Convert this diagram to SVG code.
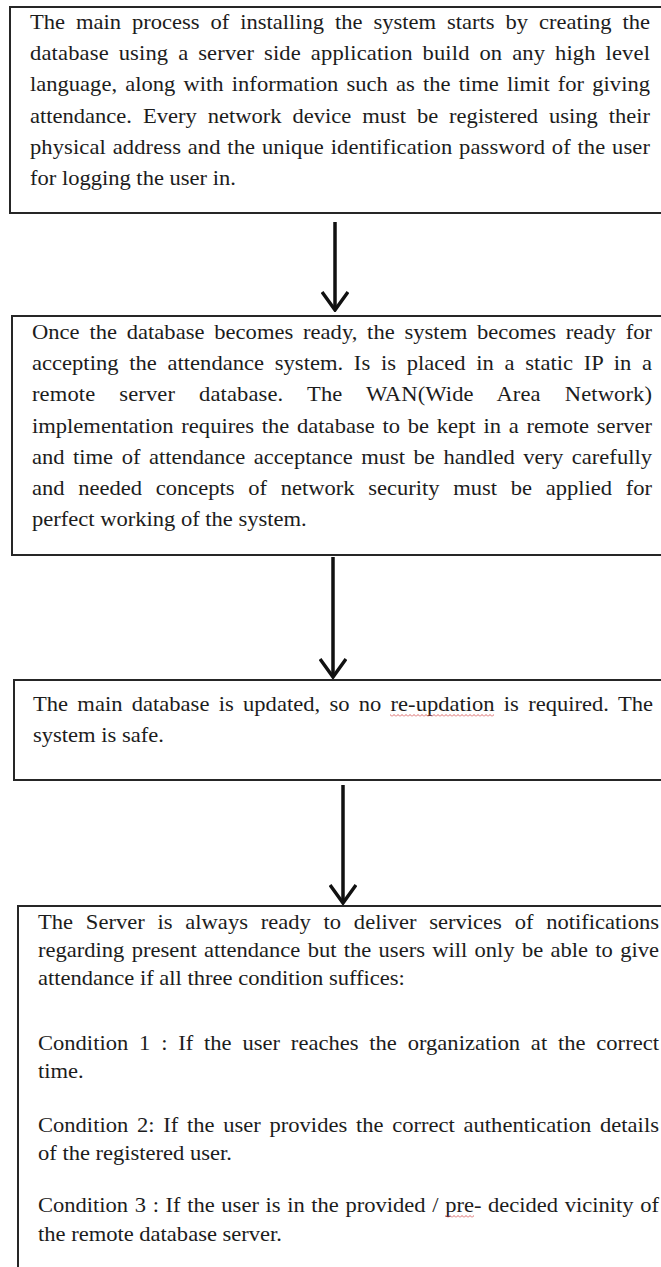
<svg xmlns="http://www.w3.org/2000/svg" width="661" height="1267" viewBox="0 0 661 1267">
<style>
.box{fill:none;stroke:#262626;stroke-width:2}
.t{font-family:"Liberation Serif","Times New Roman",serif;font-size:20.5px;fill:#1c1c1c}
.conn{stroke:#111;stroke-width:3.5;fill:none}
</style>
<defs>
<marker id="head" viewBox="0 0 22 28" refX="20" refY="14" markerWidth="22" markerHeight="28" orient="auto" markerUnits="userSpaceOnUse">
<path d="M2,1 L20,14 L2,27" fill="none" stroke="#111" stroke-width="3.5"/>
</marker>
<pattern id="sq" x="0" y="0" width="4" height="3" patternUnits="userSpaceOnUse">
<path d="M0,2.5 L2,0.5 L4,2.5" fill="none" stroke="#d04040" stroke-width="0.8"/>
</pattern>
</defs>
<rect width="661" height="1267" fill="#ffffff"/>
<g id="connectors">
<line class="conn" x1="335" y1="222" x2="335" y2="310" marker-end="url(#head)"/>
<line class="conn" x1="333" y1="557" x2="333" y2="677" marker-end="url(#head)"/>
<line class="conn" x1="343" y1="785" x2="343" y2="903" marker-end="url(#head)"/>
</g>
<g id="node1">
<rect class="box" x="10" y="7" width="680" height="206"/>
<g transform="scale(1.1 1)">
<text class="t" x="27.27" y="29" word-spacing="4.8" textLength="563.6" lengthAdjust="spacing">The main process of installing the system starts by creating the</text>
<text class="t" x="27.27" y="60" word-spacing="3.7" textLength="563.6" lengthAdjust="spacing">database using a server side application build on any high level</text>
<text class="t" x="27.27" y="91" word-spacing="2.3" textLength="563.6" lengthAdjust="spacing">language, along with information such as the time limit for giving</text>
<text class="t" x="27.27" y="123" word-spacing="4.8" textLength="563.6" lengthAdjust="spacing">attendance. Every network device must be registered using their</text>
<text class="t" x="27.27" y="154" word-spacing="0.9" textLength="563.6" lengthAdjust="spacing">physical address and the unique identification password of the user</text>
<text class="t" x="27.27" y="185">for logging the user in.</text>
</g>
</g>
<g id="node2">
<rect class="box" x="12" y="316" width="680" height="239"/>
<g transform="scale(1.1 1)">
<text class="t" x="29.09" y="339" word-spacing="3.7" textLength="563.6" lengthAdjust="spacing">Once the database becomes ready, the system becomes ready for</text>
<text class="t" x="29.09" y="370" word-spacing="4.6" textLength="563.6" lengthAdjust="spacing">accepting the attendance system. Is is placed in a static IP in a</text>
<text class="t" x="29.09" y="401" word-spacing="16.6" textLength="563.6" lengthAdjust="spacing">remote server database. The WAN(Wide Area Network)</text>
<text class="t" x="29.09" y="433" word-spacing="1.9" textLength="563.6" lengthAdjust="spacing">implementation requires the database to be kept in a remote server</text>
<text class="t" x="29.09" y="464" word-spacing="2.6" textLength="563.6" lengthAdjust="spacing">and time of attendance acceptance must be handled very carefully</text>
<text class="t" x="29.09" y="495" word-spacing="7.3" textLength="563.6" lengthAdjust="spacing">and needed concepts of network security must be applied for</text>
<text class="t" x="29.09" y="526">perfect working of the system.</text>
</g>
</g>
<g id="node3">
<rect class="box" x="14" y="680" width="680" height="100"/>
<g transform="scale(1.1 1)">
<text class="t" x="30" y="711" word-spacing="3.3" textLength="563.6" lengthAdjust="spacing">The main database is updated, so no re-updation is required. The</text>
<text class="t" x="30" y="742">system is safe.</text>
</g>
<rect x="390" y="714" width="104" height="3" fill="url(#sq)"/>
</g>
<g id="node4">
<rect class="box" x="18" y="906" width="680" height="400"/>
<g transform="scale(1.1 1)">
<text class="t" x="34.55" y="929" word-spacing="6.5" textLength="564.5" lengthAdjust="spacing">The Server is always ready to deliver services of notifications</text>
<text class="t" x="34.55" y="957" word-spacing="1.5" textLength="564.5" lengthAdjust="spacing">regarding present attendance but the users will only be able to give</text>
<text class="t" x="34.55" y="985">attendance if all three condition suffices:</text>
<text class="t" x="34.55" y="1050" word-spacing="4.7" textLength="564.5" lengthAdjust="spacing">Condition 1 : If the user reaches the organization at the correct</text>
<text class="t" x="34.55" y="1078">time.</text>
<text class="t" x="34.55" y="1132" word-spacing="2.8" textLength="564.5" lengthAdjust="spacing">Condition 2: If the user provides the correct authentication details</text>
<text class="t" x="34.55" y="1160">of the registered user.</text>
<text class="t" x="34.55" y="1212" word-spacing="0.9" textLength="564.5" lengthAdjust="spacing">Condition 3 : If the user is in the provided / pre- decided vicinity of</text>
<text class="t" x="34.55" y="1241">the remote database server.</text>
</g>
<rect x="445" y="1215" width="29" height="3" fill="url(#sq)"/>
</g>
</svg>
